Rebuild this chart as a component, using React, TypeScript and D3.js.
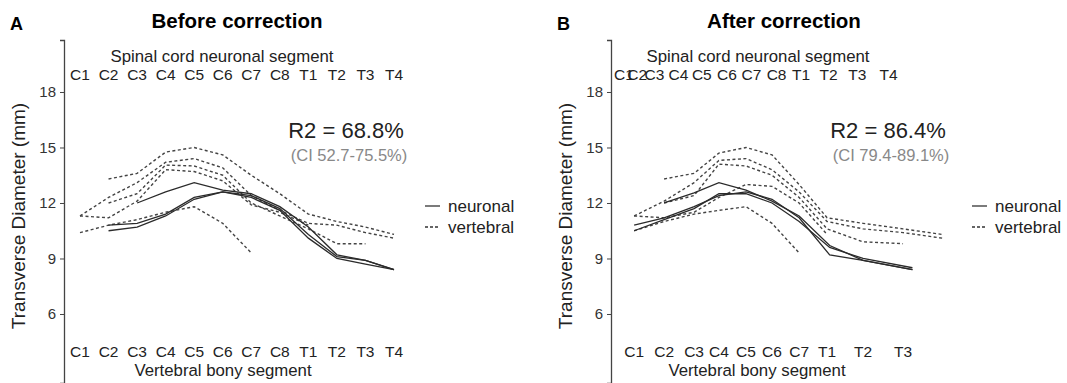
import React, { useEffect, useRef } from 'react';
import * as d3 from 'd3';

// tick labels
const neuronalLabels = ['C1', 'C2', 'C3', 'C4', 'C5', 'C6', 'C7', 'C8', 'T1', 'T2', 'T3', 'T4'];
const vertebralLabelsA = ['C1', 'C2', 'C3', 'C4', 'C5', 'C6', 'C7', 'C8', 'T1', 'T2', 'T3', 'T4'];
const vertebralLabelsB = ['C1', 'C2', 'C3', 'C4', 'C5', 'C6', 'C7', 'T1', 'T2', 'T3'];
const yTicks = [6, 9, 12, 15, 18];

// segment positions on the x axis (segment units)
const posA = [1, 2, 3, 4, 5, 6, 7, 8, 9, 10, 11, 12];
const neuronalTicksB = [0.89, 1.36, 1.96, 2.8, 3.62, 4.5, 5.36, 6.24, 7.1, 8.06, 9.07, 10.16];
const posB = [1.25, 2.3, 3.35, 4.22, 5.17, 6.08, 7.03, 8.01, 9.27, 10.67, 12.04];
const posBNeuronal = [1.25, 2.3, 3.35, 4.22, 5.17, 6.08, 7.03, 8.1, 9.27, 11.0];

type V = number | null;

// Before correction: neuronal (solid)
const neuronalA1: V[] = [null, null, 12.0, 12.6, 13.1, 12.7, 12.5, 11.8, 10.7, 9.2, 8.9, 8.4];
const neuronalA2: V[] = [null, 10.8, 10.9, 11.4, 12.3, 12.6, 12.4, 11.7, 10.3, 9.1, 8.9, 8.4];
const neuronalA3: V[] = [null, 10.5, 10.7, 11.3, 12.2, 12.6, 12.3, 11.6, 10.1, 9.0, 8.7, 8.4];

// Before correction: vertebral (dashed)
const vertebralA1: V[] = [null, 13.3, 13.6, 14.75, 15.0, 14.6, 13.5, 12.5, 11.4, 11.0, 10.7, 10.3];
const vertebralA2: V[] = [11.3, 12.3, 13.1, 14.2, 14.4, 13.9, 12.4, 11.6, 10.9, 10.8, 10.4, 10.1];
const vertebralA3: V[] = [null, 12.0, 12.5, 14.05, 14.0, 13.5, 12.0, 11.3, 10.6, 9.8, 9.8, null];
const vertebralA4: V[] = [11.3, 11.2, 12.1, 13.8, 13.7, 13.2, 11.9, 11.5, 10.8, null, null, null];
const vertebralA5: V[] = [10.4, 10.8, 11.1, 11.5, 11.8, 10.9, 9.3, null, null, null, null, null];

// After correction: neuronal (solid)
const neuronalB1: V[] = [null, 12.0, 12.55, 13.1, 12.7, 12.1, 11.3, 9.7, 8.9, 8.4];
const neuronalB2: V[] = [10.8, 11.2, 11.8, 12.4, 12.6, 12.2, 11.2, 9.2, 8.9, 8.4];
const neuronalB3: V[] = [10.5, 11.1, 11.7, 12.5, 12.5, 12.0, 11.0, 9.6, 9.0, 8.5];

// After correction: vertebral (dashed)
const vertebralB1: V[] = [null, 13.3, 13.6, 14.7, 15.0, 14.6, 13.0, 11.2, 10.9, 10.6, 10.3];
const vertebralB2: V[] = [11.3, 12.1, 13.1, 14.3, 14.4, 13.8, 12.6, 11.0, 10.6, 10.4, 10.1];
const vertebralB3: V[] = [null, 12.0, 12.4, 14.1, 14.0, 13.5, 12.3, 10.6, 9.9, 9.8, null];
const vertebralB4: V[] = [11.3, 11.2, 11.5, 12.3, 13.0, 12.9, 12.0, 10.3, null, null, null];
const vertebralB5: V[] = [10.5, 11.0, 11.4, 11.6, 11.8, 10.9, 9.3, null, null, null, null];

interface PanelSpec {
  letter: string;
  title: string;
  r2: string;
  ci: string;
  r2x: number;
  topTicks: number[];
  bottomTicks: number[];
  bottomLabels: string[];
  topTitleX: number;
  bottomTitleX: number;
  solid: { pos: number[]; values: V[][] };
  dashed: { pos: number[]; values: V[][] };
}

const panels: PanelSpec[] = [
  {
    letter: 'A',
    title: 'Before correction',
    r2: 'R2 = 68.8%',
    ci: '(CI 52.7-75.5%)',
    r2x: 346,
    topTicks: posA,
    bottomTicks: posA,
    bottomLabels: vertebralLabelsA,
    topTitleX: 222,
    bottomTitleX: 223,
    solid: { pos: posA, values: [neuronalA1, neuronalA2, neuronalA3] },
    dashed: { pos: posA, values: [vertebralA1, vertebralA2, vertebralA3, vertebralA4, vertebralA5] },
  },
  {
    letter: 'B',
    title: 'After correction',
    r2: 'R2 = 86.4%',
    ci: '(CI 79.4-89.1%)',
    r2x: 341,
    topTicks: neuronalTicksB,
    bottomTicks: posB.slice(0, vertebralLabelsB.length),
    bottomLabels: vertebralLabelsB,
    topTitleX: 211,
    bottomTitleX: 210,
    solid: { pos: posBNeuronal, values: [neuronalB1, neuronalB2, neuronalB3] },
    dashed: { pos: posB, values: [vertebralB1, vertebralB2, vertebralB3, vertebralB4, vertebralB5] },
  },
];

const FONT = '"Liberation Sans", Arial, Helvetica, sans-serif';

const App: React.FC = () => {
  const svgRef = useRef<SVGSVGElement>(null);

  useEffect(() => {
    if (!svgRef.current) return;
    const svg = d3.select(svgRef.current);
    svg.selectAll('*').remove();
    svg.style('font-family', FONT);

    const xScale = d3.scaleLinear().domain([1, 12]).range([80, 394]);
    const yScale = d3.scaleLinear().domain([2.27, 20.81]).range([383, 40]);

    panels.forEach((p, i) => {
      const g = svg.append('g').attr('transform', `translate(${i * 547},0)`);

      // panel letter + title
      g.append('text')
        .attr('x', 10)
        .attr('y', 30)
        .attr('font-size', 18)
        .attr('font-weight', 'bold')
        .attr('fill', '#000')
        .text(p.letter);

      g.append('text')
        .attr('x', 237)
        .attr('y', 28)
        .attr('text-anchor', 'middle')
        .attr('font-size', 20.5)
        .attr('font-weight', 'bold')
        .attr('fill', '#000')
        .text(p.title);

      // y axis
      const yAxis = g
        .append('g')
        .attr('transform', 'translate(64,0)')
        .call(d3.axisLeft(yScale).tickValues(yTicks).tickSizeOuter(0).tickSize(4).tickPadding(4));
      yAxis.select('.domain').attr('stroke', '#444').attr('stroke-width', 1.3);
      yAxis.selectAll('.tick line').attr('stroke', '#444');
      yAxis
        .selectAll('.tick text')
        .attr('font-size', 15)
        .attr('font-family', FONT)
        .attr('fill', '#333');

      g.append('text')
        .attr('transform', 'rotate(-90)')
        .attr('x', -216)
        .attr('y', 25)
        .attr('text-anchor', 'middle')
        .attr('font-size', 19)
        .attr('fill', '#222')
        .text('Transverse Diameter (mm)');

      // top (neuronal) labels
      g.append('text')
        .attr('x', p.topTitleX)
        .attr('y', 62)
        .attr('text-anchor', 'middle')
        .attr('font-size', 16.8)
        .attr('fill', '#222')
        .text('Spinal cord neuronal segment');

      g.selectAll('.top-tick')
        .data(p.topTicks)
        .enter()
        .append('text')
        .attr('x', d => xScale(d))
        .attr('y', 80)
        .attr('text-anchor', 'middle')
        .attr('font-size', 15.5)
        .attr('fill', '#222')
        .text((_, j) => neuronalLabels[j]);

      // bottom (vertebral) labels
      g.selectAll('.bottom-tick')
        .data(p.bottomTicks)
        .enter()
        .append('text')
        .attr('x', d => xScale(d))
        .attr('y', 357)
        .attr('text-anchor', 'middle')
        .attr('font-size', 15.5)
        .attr('fill', '#222')
        .text((_, j) => p.bottomLabels[j]);

      g.append('text')
        .attr('x', p.bottomTitleX)
        .attr('y', 376)
        .attr('text-anchor', 'middle')
        .attr('font-size', 16.8)
        .attr('fill', '#222')
        .text('Vertebral bony segment');

      // lines
      const drawSeries = (pos: number[], values: V[][], dashed: boolean) => {
        values.forEach(vals => {
          const pts = vals.map((v, j) => [pos[j], v] as [number, V]);
          const line = d3
            .line<[number, V]>()
            .defined(d => d[1] !== null)
            .x(d => xScale(d[0]))
            .y(d => yScale(d[1] as number));
          g.append('path')
            .datum(pts)
            .attr('fill', 'none')
            .attr('stroke', dashed ? '#444' : '#2b2b2b')
            .attr('stroke-width', dashed ? 1.4 : 1.3)
            .attr('stroke-dasharray', dashed ? '3,2.5' : null)
            .attr('d', line);
        });
      };
      drawSeries(p.dashed.pos, p.dashed.values, true);
      drawSeries(p.solid.pos, p.solid.values, false);

      // R2 annotation
      g.append('text')
        .attr('x', p.r2x)
        .attr('y', 138)
        .attr('text-anchor', 'middle')
        .attr('font-size', 22)
        .attr('fill', '#222')
        .text(p.r2);

      g.append('text')
        .attr('x', p.r2x + 3)
        .attr('y', 161)
        .attr('text-anchor', 'middle')
        .attr('font-size', 16.5)
        .attr('fill', '#888')
        .text(p.ci);

      // legend
      const legend = g.append('g').attr('transform', 'translate(425,206)');
      [
        { label: 'neuronal', dash: null },
        { label: 'vertebral', dash: '3,2' },
      ].forEach((item, k) => {
        legend
          .append('line')
          .attr('x1', 0)
          .attr('x2', 15)
          .attr('y1', k * 21)
          .attr('y2', k * 21)
          .attr('stroke', '#333')
          .attr('stroke-width', 1.3)
          .attr('stroke-dasharray', item.dash);
        legend
          .append('text')
          .attr('x', 23)
          .attr('y', k * 21 + 6)
          .attr('font-size', 17)
          .attr('fill', '#222')
          .text(item.label);
      });
    });
  }, []);

  return (
    <svg
      ref={svgRef}
      width={1067}
      height={383}
      style={{ position: 'absolute', left: 0, top: 0, background: '#fff' }}
    />
  );
};

export default App;
